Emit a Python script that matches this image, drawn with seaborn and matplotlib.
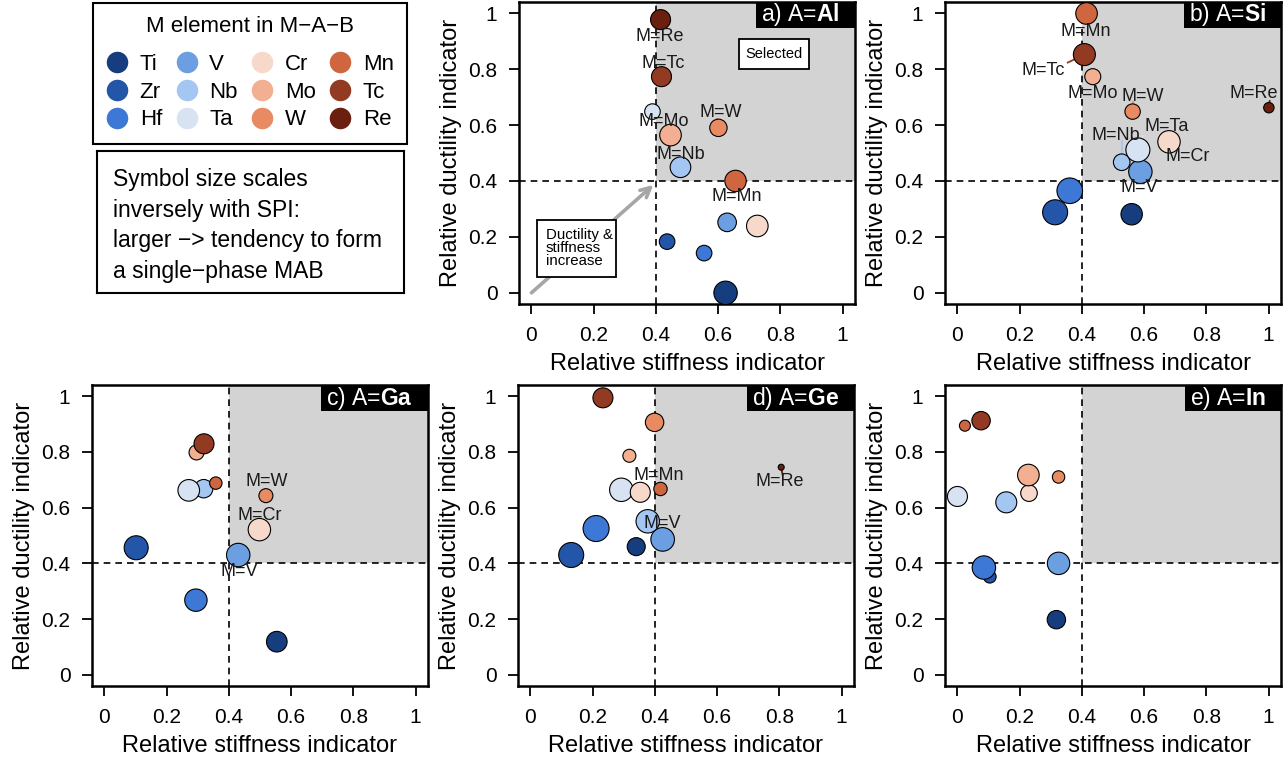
import numpy as np
import pandas as pd
import matplotlib
matplotlib.use("Agg")
import matplotlib.pyplot as plt
import seaborn as sns
from matplotlib.patches import Rectangle
from matplotlib.lines import Line2D

# ---------------- data ----------------
elements = ["Ti", "Zr", "Hf", "V", "Nb", "Ta", "Cr", "Mo", "W", "Mn", "Tc", "Re"]
colors = ["#163e7e", "#2356a8", "#3d78d6", "#6b9fe2", "#a3c6f2", "#d7e2f2",
          "#f7d9cc", "#f2af91", "#e88a62", "#cf6640", "#923b22", "#6a1f0f"]

# A = Al
al_stiff = [0.624, 0.436, 0.555, 0.629, 0.479, 0.389, 0.726, 0.447, 0.601, 0.656, 0.418, 0.415]
al_duct = [0.000, 0.183, 0.142, 0.252, 0.449, 0.648, 0.239, 0.564, 0.590, 0.400, 0.773, 0.977]
al_sym = [11.7, 7.8, 7.8, 9.3, 10.3, 7.8, 10.8, 10.8, 8.7, 10.7, 10.0, 10.0]
# A = Si
si_stiff = [0.560, 0.314, 0.361, 0.588, 0.528, 0.580, 0.680, 0.435, 0.563, 0.415, 0.408, 1.001]
si_duct = [0.281, 0.288, 0.365, 0.433, 0.467, 0.511, 0.540, 0.773, 0.648, 0.999, 0.852, 0.662]
si_sym = [10.7, 12.5, 12.8, 11.7, 8.3, 12.0, 11.2, 8.0, 7.7, 10.8, 11.0, 5.2]
# A = Ga (no Re)
ga_stiff = [0.554, 0.102, 0.294, 0.430, 0.319, 0.271, 0.498, 0.296, 0.519, 0.358, 0.320, np.nan]
ga_duct = [0.119, 0.456, 0.268, 0.430, 0.668, 0.662, 0.521, 0.798, 0.643, 0.688, 0.829, np.nan]
ga_sym = [10.3, 12.0, 11.2, 11.7, 9.2, 10.8, 11.2, 7.5, 7.0, 6.2, 10.0, np.nan]
# A = Ge
ge_stiff = [0.340, 0.131, 0.211, 0.425, 0.377, 0.292, 0.353, 0.318, 0.399, 0.418, 0.233, 0.806]
ge_duct = [0.460, 0.430, 0.525, 0.486, 0.551, 0.664, 0.655, 0.786, 0.906, 0.667, 0.994, 0.745]
ge_sym = [9.0, 12.5, 13.0, 11.8, 11.7, 11.7, 10.0, 6.5, 9.2, 6.7, 10.0, 3.0]
# A = In (no Re)
in_stiff = [0.318, 0.104, 0.085, 0.325, 0.157, 0.000, 0.230, 0.228, 0.325, 0.024, 0.076, np.nan]
in_duct = [0.198, 0.352, 0.385, 0.400, 0.619, 0.640, 0.652, 0.717, 0.710, 0.894, 0.912, np.nan]
in_sym = [9.2, 6.3, 11.7, 11.2, 10.5, 10.0, 8.3, 10.8, 6.2, 5.5, 9.2, np.nan]

panel_tags = ["a", "b", "c", "d", "e"]
a_elements = ["Al", "Si", "Ga", "Ge", "In"]

frames = []
for tag, A, xs, ys, ss in zip(panel_tags, a_elements,
                              [al_stiff, si_stiff, ga_stiff, ge_stiff, in_stiff],
                              [al_duct, si_duct, ga_duct, ge_duct, in_duct],
                              [al_sym, si_sym, ga_sym, ge_sym, in_sym]):
    frames.append(pd.DataFrame({"panel": tag, "A": A, "M": elements,
                                "stiffness": xs, "ductility": ys, "sym": ss}))
df = pd.concat(frames, ignore_index=True).dropna()
df["area"] = df["sym"] ** 2

# point labels (text centre in data coords)
point_labels = {
    "a": [("Re", 0.412, 0.918), ("Tc", 0.424, 0.821), ("Mo", 0.424, 0.614),
          ("W", 0.608, 0.646), ("Nb", 0.479, 0.496), ("Mn", 0.659, 0.343)],
    "b": [("Mn", 0.413, 0.936), ("Tc", 0.276, 0.796), ("Mo", 0.435, 0.714),
          ("W", 0.596, 0.701), ("Re", 0.951, 0.711), ("Ta", 0.671, 0.594),
          ("Nb", 0.510, 0.561), ("Cr", 0.739, 0.486), ("V", 0.584, 0.375)],
    "c": [("W", 0.522, 0.694), ("Cr", 0.500, 0.573), ("V", 0.433, 0.370)],
    "d": [("Mn", 0.413, 0.714), ("Re", 0.801, 0.694), ("V", 0.423, 0.543)],
    "e": [],
}
leader_ends = {("b", "Tc"): (0.352, 0.822), ("b", "Mo"): (0.435, 0.740),
               ("b", "W"): (0.563, 0.685), ("b", "Re"): (1.004, 0.689),
               ("b", "Nb"): (0.529, 0.546), ("b", "Ta"): (0.596, 0.564),
               ("d", "Re"): (0.811, 0.714), ("a", "W"): (0.597, 0.625)}

# ---------------- style ----------------
sns.set_style("white")
plt.rcParams["font.family"] = ["Liberation Sans", "DejaVu Sans"]
plt.rcParams["mathtext.fontset"] = "custom"
plt.rcParams["mathtext.rm"] = "Liberation Sans"
plt.rcParams["mathtext.bf"] = "Liberation Sans:bold"
plt.rcParams["text.color"] = "black"
plt.rcParams["axes.labelcolor"] = "black"
plt.rcParams["xtick.color"] = "black"
plt.rcParams["ytick.color"] = "black"

W, H = 1283, 763
fig = plt.figure(figsize=(W / 100, H / 100), dpi=100)
fig.patch.set_facecolor("white")

pal = dict(zip(elements, colors))

ax_boxes = {
    "a": (519, 2, 336, 302),
    "b": (945, 2, 336, 302),
    "c": (92, 385, 336, 301),
    "d": (518, 385, 336, 301),
    "e": (945, 385, 336, 301),
}

for tag, A in zip(panel_tags, a_elements):
    x0, y0, w, h = ax_boxes[tag]
    ax = fig.add_axes([x0 / W, 1 - (y0 + h) / H, w / W, h / H])
    sub = df[df["panel"] == tag]

    ax.add_patch(Rectangle((0.4, 0.4), 1.0, 1.0, facecolor="#d3d3d3",
                           edgecolor="none", zorder=0))
    ax.axvline(0.4, color="black", ls=(0, (4, 3)), lw=1.2, zorder=1)
    ax.axhline(0.4, color="black", ls=(0, (4, 3)), lw=1.2, zorder=1)

    for (t, m), (ex, ey) in leader_ends.items():
        if t != tag:
            continue
        r = sub[sub["M"] == m].iloc[0]
        ax.plot([r["stiffness"], ex], [r["ductility"], ey], color=pal[m],
                lw=1.3, zorder=1.5, solid_capstyle="butt")

    sns.scatterplot(data=sub, x="stiffness", y="ductility", hue="M",
                    hue_order=elements, palette=pal, size="area",
                    sizes=(0, 414.72), size_norm=(0, 200),
                    edgecolor="black", linewidth=0.8, legend=False,
                    ax=ax, zorder=3)

    for m, lx, ly in point_labels[tag]:
        ax.text(lx, ly, f"M={m}", ha="center", va="center", fontsize=13,
                color="#1a1a1a", zorder=4)

    ax.set_xlim(-0.04, 1.04)
    ax.set_ylim(-0.04, 1.04)
    ticks = [0, 0.2, 0.4, 0.6, 0.8, 1]
    ax.set_xticks(ticks)
    ax.set_yticks(ticks)
    ax.set_xticklabels(["0", "0.2", "0.4", "0.6", "0.8", "1"])
    ax.set_yticklabels(["0", "0.2", "0.4", "0.6", "0.8", "1"])
    ax.tick_params(axis="both", direction="out", length=7.5, width=1.3,
                   labelsize=15, color="black", labelcolor="black",
                   bottom=True, left=True, top=False, right=False)
    ax.tick_params(axis="x", pad=8)
    ax.tick_params(axis="y", pad=8)
    for sp in ax.spines.values():
        sp.set_visible(True)
        sp.set_linewidth(1.8)
        sp.set_color("black")
    ax.set_xlabel("Relative stiffness indicator", fontsize=17)
    ax.set_ylabel("Relative ductility indicator", fontsize=17)
    ax.xaxis.set_label_coords(0.5, -0.162)
    ax.yaxis.set_label_coords(-0.17, 0.5)

    # panel tag box
    txt = ax.text(1 - 15 / w, 1 - 13 / h, f"{tag}) A=$\\mathbf{{{A}}}$",
                  transform=ax.transAxes, ha="right", va="center",
                  fontsize=16.5, color="white", zorder=6)
    fig.canvas.draw()
    bb = txt.get_window_extent(fig.canvas.get_renderer()).transformed(ax.transAxes.inverted())
    left = bb.x0 - 5 / w
    ax.add_patch(Rectangle((left, 1 - 26 / h), 1.05 - left, 27 / h,
                           transform=ax.transAxes, facecolor="black",
                           edgecolor="none", zorder=5, clip_on=True))

    if tag == "a":
        ax.annotate("", xy=(0.392, 0.386), xytext=(0.0, 0.0),
                    arrowprops=dict(arrowstyle="->,head_length=0.7,head_width=0.35",
                                    color="#a6a6a6", lw=2.6, shrinkA=0, shrinkB=0),
                    zorder=2)
        ax.add_patch(Rectangle((0.019, 0.057), 0.254, 0.204, facecolor="white",
                               edgecolor="black", lw=1.3, zorder=2.5))
        ax.text(0.046, 0.16, "Ductility &\nstiffness\nincrease", ha="left",
                va="center", fontsize=10.8, linespacing=0.9, zorder=2.6)
        ax.add_patch(Rectangle((0.666, 0.800), 0.225, 0.107, facecolor="white",
                               edgecolor="black", lw=1.3, zorder=2.5))
        ax.text(0.778, 0.854, "Selected", ha="center", va="center",
                fontsize=10.5, zorder=2.6)

# ---------------- legend ----------------
ax_leg = fig.add_axes([93 / W, 1 - 144 / H, 314 / W, 141 / H])
ax_leg.axis("off")
handles = [Line2D([], [], ls="none", marker="o", ms=15.5, mfc=c, mec="none")
           for c in colors]
leg = ax_leg.legend(handles, elements, ncol=4, loc="upper left",
                    bbox_to_anchor=(0, 0, 1, 1), mode="expand",
                    title="M element in M\u2212A\u2212B", fontsize=16,
                    title_fontsize=16, frameon=True, fancybox=False,
                    edgecolor="black", borderaxespad=0, handlelength=1.0,
                    handletextpad=0.5, columnspacing=0.8, labelspacing=0.3,
                    borderpad=0.6)
leg.get_frame().set_linewidth(1.5)
leg.get_frame().set_alpha(1)
for t in leg.get_texts():
    t.set_color("black")
leg.get_title().set_color("black")
try:
    leg._legend_box.sep = 12
except Exception:
    pass

ax_note = fig.add_axes([97 / W, 1 - 293 / H, 307 / W, 142 / H])
ax_note.set_xticks([])
ax_note.set_yticks([])
for sp in ax_note.spines.values():
    sp.set_visible(True)
    sp.set_linewidth(1.5)
    sp.set_color("black")
ax_note.text(0.052, 0.475,
             "Symbol size scales\ninversely with SPI:\nlarger \u2212> tendency to form\na single\u2212phase MAB",
             ha="left", va="center", fontsize=16.5, linespacing=1.42,
             transform=ax_note.transAxes)

fig.savefig("out.png", dpi=100, facecolor="white")
